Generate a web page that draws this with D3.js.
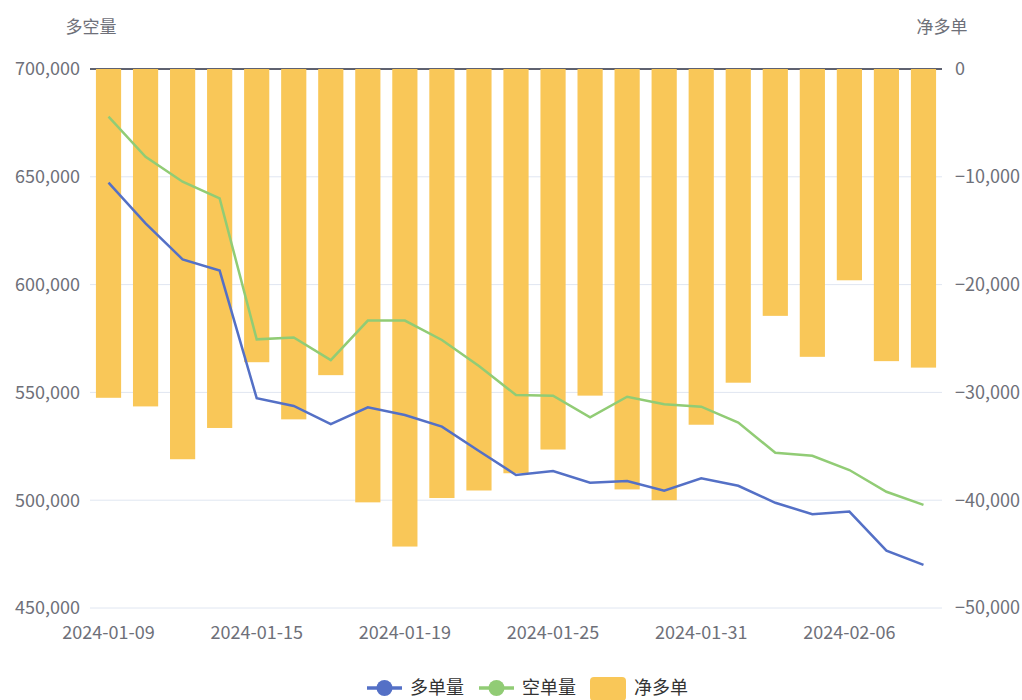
<!DOCTYPE html>
<html>
<head>
<meta charset="utf-8">
<script src="https://cdn.jsdelivr.net/npm/d3@7"></script>
<style>
  body { margin: 0; background: #fff; }
  text { font-family: "Noto Sans CJK SC", "Noto Sans", sans-serif; }
</style>
</head>
<body>
<div id="chart"></div>
<script>
// trading days on the x axis
var dates = ["2024-01-09", "2024-01-10", "2024-01-11", "2024-01-12", "2024-01-15",
  "2024-01-16", "2024-01-17", "2024-01-18", "2024-01-19", "2024-01-22", "2024-01-23",
  "2024-01-24", "2024-01-25", "2024-01-26", "2024-01-29", "2024-01-30", "2024-01-31",
  "2024-02-01", "2024-02-02", "2024-02-05", "2024-02-06", "2024-02-07", "2024-02-08"];

// 多单量 (left axis)
var longVol = [647300, 628400, 611700, 606500, 547300, 543700, 535300, 543100, 539500,
  534100, 522800, 511700, 513500, 508100, 508900, 504400, 510200, 506700, 498800,
  493500, 494700, 476600, 470000];

// 空单量 (left axis)
var shortVol = [677900, 659300, 647700, 640000, 574600, 575500, 565000, 583300, 583300,
  574300, 562200, 548800, 548500, 538400, 548000, 544500, 543400, 536000, 522000,
  520600, 514000, 503900, 497800];

// 净多单 (right axis)
var netLong = [-30500, -31300, -36200, -33300, -27200, -32500, -28400, -40200, -44300,
  -39800, -39100, -37500, -35300, -30300, -39000, -40000, -33000, -29100, -22900,
  -26700, -19600, -27100, -27700];

var leftTicks = [450000, 500000, 550000, 600000, 650000, 700000];
var rightTicks = [-50000, -40000, -30000, -20000, -10000, 0];
var shownDates = ["2024-01-09", "2024-01-15", "2024-01-19", "2024-01-25", "2024-01-31", "2024-02-06"];

var width = 1022, height = 700;
var margin = { top: 69, right: 80, bottom: 92, left: 90 };
var plotW = width - margin.left - margin.right;
var plotH = height - margin.top - margin.bottom;

var blue = "#5470c6", green = "#91cc75", yellow = "#f9c758", axisText = "#6e7079";

var svg = d3.select("#chart").append("svg")
  .attr("width", width)
  .attr("height", height);

var x = d3.scaleBand().domain(dates).range([margin.left, margin.left + plotW]);
var yLeft = d3.scaleLinear().domain([450000, 700000]).range([margin.top + plotH, margin.top]);
var yRight = d3.scaleLinear().domain([-50000, 0]).range([margin.top + plotH, margin.top]);

var fmt = d3.format(",");

// grid lines
svg.append("g")
  .selectAll("line")
  .data(leftTicks.slice(0, -1))
  .join("line")
  .attr("x1", margin.left)
  .attr("x2", margin.left + plotW)
  .attr("y1", d => yLeft(d))
  .attr("y2", d => yLeft(d))
  .attr("stroke", "#e0e6f1");

// category axis line sits at the bar baseline (top)
svg.append("line")
  .attr("x1", margin.left)
  .attr("x2", margin.left + plotW)
  .attr("y1", yRight(0))
  .attr("y2", yRight(0))
  .attr("stroke", "#5f6270")
  .attr("stroke-width", 2);

// bars
var barW = x.bandwidth() * 0.68;
svg.append("g")
  .selectAll("rect")
  .data(netLong)
  .join("rect")
  .attr("x", (d, i) => x(dates[i]) + (x.bandwidth() - barW) / 2)
  .attr("y", yRight(0))
  .attr("width", barW)
  .attr("height", d => yRight(d) - yRight(0))
  .attr("fill", yellow);

// lines
var cx = i => x(dates[i]) + x.bandwidth() / 2;
var lineFn = d3.line().x((d, i) => cx(i)).y(d => yLeft(d));

svg.append("path")
  .datum(shortVol)
  .attr("d", lineFn)
  .attr("fill", "none")
  .attr("stroke", green)
  .attr("stroke-width", 2.5);

svg.append("path")
  .datum(longVol)
  .attr("d", lineFn)
  .attr("fill", "none")
  .attr("stroke", blue)
  .attr("stroke-width", 2.5);

// left axis labels
svg.append("g")
  .selectAll("text")
  .data(leftTicks)
  .join("text")
  .attr("x", margin.left - 10)
  .attr("y", d => yLeft(d))
  .attr("dy", "0.35em")
  .attr("text-anchor", "end")
  .attr("font-size", 18)
  .attr("fill", axisText)
  .text(d => fmt(d));

// right axis labels
svg.append("g")
  .selectAll("text")
  .data(rightTicks)
  .join("text")
  .attr("x", margin.left + plotW + 13)
  .attr("y", d => yRight(d))
  .attr("dy", "0.35em")
  .attr("text-anchor", "start")
  .attr("font-size", 18)
  .attr("fill", axisText)
  .text(d => fmt(d));

// bottom date labels
svg.append("g")
  .selectAll("text")
  .data(shownDates)
  .join("text")
  .attr("x", d => x(d) + x.bandwidth() / 2)
  .attr("y", margin.top + plotH + 25)
  .attr("dy", "0.35em")
  .attr("text-anchor", "middle")
  .attr("font-size", 18)
  .attr("fill", axisText)
  .text(d => d);

// axis names
svg.append("text")
  .attr("x", 91).attr("y", 27).attr("dy", "0.35em")
  .attr("text-anchor", "middle")
  .attr("font-size", 17).attr("fill", axisText)
  .text("多空量");

svg.append("text")
  .attr("x", 942).attr("y", 27).attr("dy", "0.35em")
  .attr("text-anchor", "middle")
  .attr("font-size", 17).attr("fill", axisText)
  .text("净多单");

// legend
var legendY = 688;
var legendItems = [
  { name: "多单量", color: blue, type: "line", x: 367 },
  { name: "空单量", color: green, type: "line", x: 479 },
  { name: "净多单", color: yellow, type: "rect", x: 590 }
];

legendItems.forEach(function(item) {
  var g = svg.append("g");
  if (item.type === "line") {
    g.append("line")
      .attr("x1", item.x).attr("x2", item.x + 35)
      .attr("y1", legendY).attr("y2", legendY)
      .attr("stroke", item.color).attr("stroke-width", 3.5);
    g.append("circle")
      .attr("cx", item.x + 17.5).attr("cy", legendY).attr("r", 8)
      .attr("fill", item.color);
  } else {
    g.append("rect")
      .attr("x", item.x).attr("y", legendY - 11)
      .attr("width", 36).attr("height", 24).attr("rx", 4)
      .attr("fill", item.color);
  }
  g.append("text")
    .attr("x", item.x + (item.type === "line" ? 43 : 44))
    .attr("y", legendY).attr("dy", "0.35em")
    .attr("font-size", 18).attr("fill", "#333")
    .text(item.name);
});
</script>
</body>
</html>
